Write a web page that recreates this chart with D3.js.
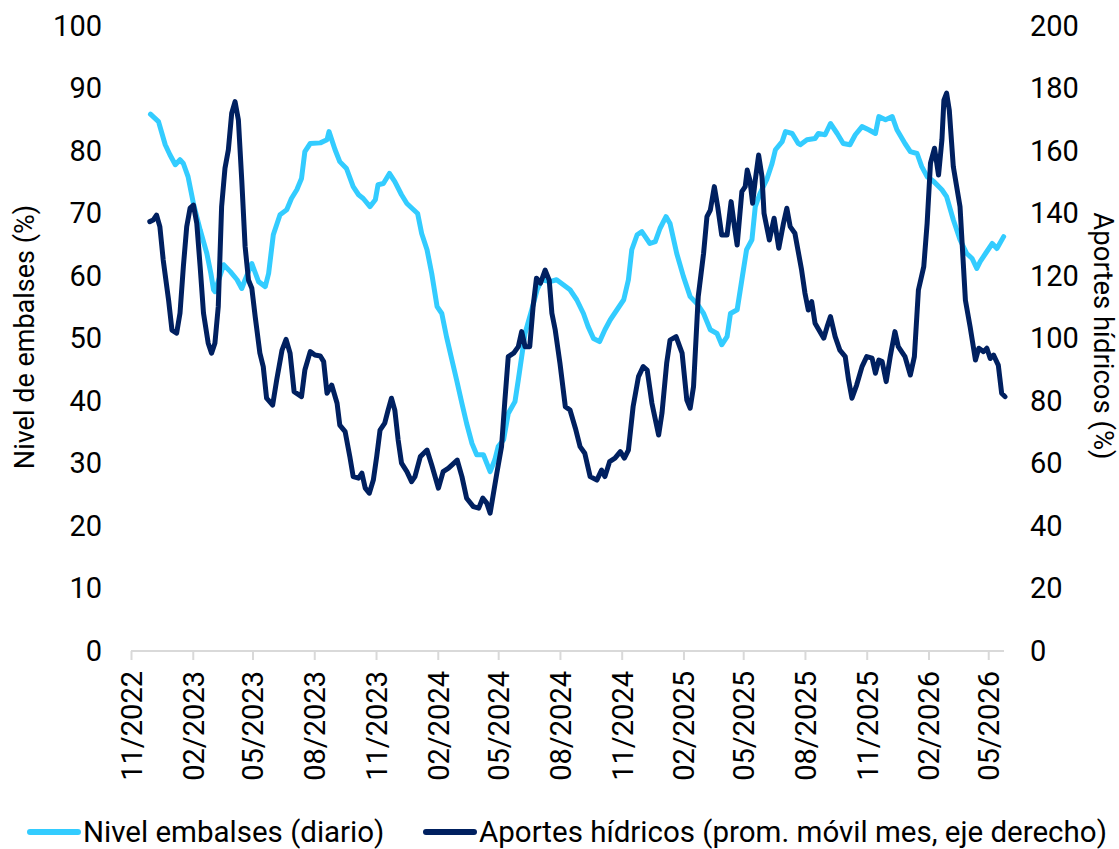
<!DOCTYPE html>
<html>
<head>
<meta charset="utf-8">
<script src="https://cdn.jsdelivr.net/npm/d3@7"></script>
<style>
body { margin: 0; background: #fff; }
text { font-family: Roboto, "Noto Sans", sans-serif; fill: #000; }
</style>
</head>
<body>
<div id="graph"></div>
<script>
// Nivel embalses (diario), eje izquierdo
var nivel_fechas = [
"2022-11-30","2022-12-12","2022-12-22","2022-12-29","2023-01-06","2023-01-13","2023-01-18","2023-01-25",
"2023-02-02","2023-02-12","2023-02-22","2023-02-28","2023-03-04","2023-03-06","2023-03-19","2023-03-29",
"2023-04-08","2023-04-15","2023-04-20","2023-04-30","2023-05-10","2023-05-20","2023-05-25","2023-06-01",
"2023-06-11","2023-06-21","2023-06-28","2023-07-06","2023-07-13","2023-07-18","2023-07-26","2023-08-10",
"2023-08-20","2023-08-23","2023-09-01","2023-09-08","2023-09-18","2023-09-28","2023-10-06","2023-10-13",
"2023-10-23","2023-10-31","2023-11-04","2023-11-12","2023-11-21","2023-11-29","2023-12-09","2023-12-17",
"2023-12-27","2024-01-02","2024-01-08","2024-01-16","2024-01-23","2024-01-31","2024-02-07","2024-02-14",
"2024-02-22","2024-02-29","2024-03-08","2024-03-15","2024-03-23","2024-03-30","2024-04-09","2024-04-19",
"2024-04-26","2024-05-01","2024-05-09","2024-05-16","2024-05-26","2024-05-31","2024-06-05","2024-06-10",
"2024-06-20","2024-06-28","2024-07-05","2024-07-17","2024-07-27","2024-08-06","2024-08-16","2024-08-26",
"2024-09-05","2024-09-12","2024-09-20","2024-09-29","2024-10-07","2024-10-15","2024-10-25","2024-11-04",
"2024-11-11","2024-11-16","2024-11-24","2024-12-01","2024-12-13","2024-12-21","2024-12-28","2025-01-06",
"2025-01-12","2025-01-22","2025-02-01","2025-02-11","2025-02-21","2025-03-03","2025-03-13","2025-03-23",
"2025-03-30","2025-04-07","2025-04-12","2025-04-22","2025-04-29","2025-05-06","2025-05-14","2025-05-19",
"2025-05-26","2025-06-05","2025-06-13","2025-06-18","2025-06-28","2025-07-03","2025-07-13","2025-07-22",
"2025-07-25","2025-08-04","2025-08-16","2025-08-21","2025-08-31","2025-09-08","2025-09-18","2025-09-27",
"2025-10-07","2025-10-15","2025-10-25","2025-11-04","2025-11-14","2025-11-19","2025-11-29","2025-12-09",
"2025-12-16","2025-12-28","2026-01-05","2026-01-15","2026-01-22","2026-01-30","2026-02-09","2026-02-21",
"2026-02-28","2026-03-10","2026-03-20","2026-03-30","2026-04-07","2026-04-14","2026-04-19","2026-04-27",
"2026-05-07","2026-05-14","2026-05-24"];
var nivel_valores = [
85.9,84.7,81.0,79.4,77.8,78.6,78.0,75.9,
71.6,67.4,63.6,60.4,57.8,57.5,61.8,60.7,
59.4,58.0,59.4,62.0,59.1,58.3,60.4,66.6,
69.8,70.6,72.4,73.8,75.6,79.9,81.2,81.3,
81.8,83.1,80.2,78.3,77.2,74.3,73.0,72.4,
71.1,72.2,74.6,74.8,76.4,75.1,73.0,71.6,
70.6,70.0,66.8,64.2,60.4,55.1,54.0,50.3,
46.6,43.4,39.6,36.4,33.2,31.4,31.4,28.7,
30.6,32.7,33.8,38.0,39.9,43.4,47.1,50.8,
54.6,57.8,59.4,59.1,59.4,58.6,57.8,56.2,
54.0,51.9,50.0,49.5,51.4,53.0,54.6,56.2,
59.4,64.2,66.6,67.1,65.2,65.5,67.6,69.5,
68.4,63.6,59.9,56.7,55.6,54.0,51.4,50.8,
49.0,50.3,54.0,54.6,59.4,64.2,65.8,71.1,
73.2,75.4,78.0,80.2,81.5,83.1,82.8,81.2,
81.0,81.8,82.0,82.8,82.6,84.4,82.8,81.2,
81.0,82.6,83.9,83.4,82.8,85.5,85.0,85.5,
83.4,81.2,79.9,79.6,77.5,75.9,75.1,73.8,
72.7,69.0,65.8,63.6,62.8,61.2,62.3,63.6,
65.2,64.4,66.3];

// Aportes hidricos (prom. movil mes), eje derecho
var aportes_fechas = [
"2022-11-29","2022-12-04","2022-12-09","2022-12-14","2022-12-19","2022-12-27","2023-01-01","2023-01-08",
"2023-01-13","2023-01-18","2023-01-23","2023-01-28","2023-02-02","2023-02-07","2023-02-12","2023-02-17",
"2023-02-24","2023-03-01","2023-03-06","2023-03-11","2023-03-16","2023-03-21","2023-03-26","2023-03-31",
"2023-04-05","2023-04-10","2023-04-15","2023-04-20","2023-04-25","2023-04-30","2023-05-05","2023-05-12",
"2023-05-17","2023-05-22","2023-05-31","2023-06-06","2023-06-14","2023-06-20","2023-06-26","2023-07-02",
"2023-07-13","2023-07-18","2023-07-26","2023-08-02","2023-08-10","2023-08-15","2023-08-20","2023-08-27",
"2023-09-04","2023-09-08","2023-09-16","2023-09-23","2023-09-28","2023-10-06","2023-10-11","2023-10-16",
"2023-10-22","2023-10-28","2023-11-02","2023-11-07","2023-11-14","2023-11-19","2023-11-24","2023-11-29",
"2023-12-04","2023-12-09","2023-12-17","2023-12-24","2023-12-29","2024-01-06","2024-01-16","2024-01-23",
"2024-02-02","2024-02-09","2024-02-17","2024-03-01","2024-03-08","2024-03-15","2024-03-25","2024-04-02",
"2024-04-08","2024-04-14","2024-04-19","2024-04-24","2024-04-29","2024-05-06","2024-05-11","2024-05-16",
"2024-05-24","2024-05-31","2024-06-05","2024-06-10","2024-06-17","2024-06-22","2024-06-27","2024-07-03",
"2024-07-10","2024-07-16","2024-07-20","2024-07-25","2024-08-01","2024-08-09","2024-08-16","2024-08-24",
"2024-08-31","2024-09-07","2024-09-15","2024-09-25","2024-10-02","2024-10-07","2024-10-14","2024-10-22",
"2024-10-30","2024-11-05","2024-11-11","2024-11-18","2024-11-26","2024-12-03","2024-12-09","2024-12-16",
"2024-12-26","2024-12-31","2025-01-07","2025-01-12","2025-01-21","2025-01-30","2025-02-06","2025-02-11",
"2025-02-16","2025-02-23","2025-03-03","2025-03-08","2025-03-13","2025-03-19","2025-03-24","2025-03-30",
"2025-04-07","2025-04-13","2025-04-18","2025-04-22","2025-04-29","2025-05-04","2025-05-07","2025-05-11",
"2025-05-15","2025-05-19","2025-05-24","2025-05-29","2025-06-01","2025-06-09","2025-06-16","2025-06-23",
"2025-06-30","2025-07-05","2025-07-10","2025-07-17","2025-07-27","2025-08-01","2025-08-06","2025-08-11",
"2025-08-16","2025-08-29","2025-09-03","2025-09-08","2025-09-15","2025-09-22","2025-09-30","2025-10-05",
"2025-10-10","2025-10-17","2025-10-25","2025-11-01","2025-11-09","2025-11-14","2025-11-19","2025-11-24",
"2025-11-30","2025-12-06","2025-12-13","2025-12-18","2025-12-28","2026-01-05","2026-01-11","2026-01-17",
"2026-01-25","2026-01-30","2026-02-04","2026-02-10","2026-02-16","2026-02-21","2026-02-24","2026-02-28",
"2026-03-04","2026-03-10","2026-03-20","2026-03-28","2026-04-04","2026-04-12","2026-04-17","2026-04-24",
"2026-04-29","2026-05-04","2026-05-09","2026-05-16","2026-05-21","2026-05-26"];
var aportes_valores = [
137.4,137.9,139.5,135.8,125.1,112.3,102.7,101.7,
108.1,123.0,135.8,141.7,142.7,136.9,123.0,108.1,
98.5,95.3,98.5,110.2,142.2,154.5,160.3,172.1,
175.8,169.9,150.7,129.4,118.7,116.1,107.0,95.3,
91.0,80.9,78.7,86.7,96.3,99.7,95.3,83.0,
81.4,89.9,95.8,94.7,94.4,92.6,82.5,85.1,
79.3,72.3,70.2,62.2,55.8,55.3,56.9,52.1,
50.5,54.7,62.2,70.7,72.9,77.1,80.9,77.1,
67.5,60.1,57.4,54.2,55.8,62.2,64.3,59.5,
52.1,57.4,58.5,61.1,55.8,48.9,46.2,45.7,
48.9,47.3,44.1,50.5,56.9,65.4,80.3,94.2,
95.3,97.4,102.2,97.4,97.4,110.2,119.3,117.7,
121.9,118.7,108.1,102.7,92.1,78.2,77.1,71.3,
65.4,63.3,55.8,54.7,57.9,55.8,60.6,61.7,
63.8,61.7,64.3,78.2,87.8,91.0,89.9,79.3,
69.1,76.1,92.1,99.5,100.6,95.3,80.3,77.7,
84.6,113.4,127.3,139.0,141.1,148.6,142.2,133.1,
133.1,143.8,135.8,129.9,147.0,148.6,153.9,150.7,
143.3,150.7,158.7,151.8,140.1,131.5,138.5,128.9,
136.9,141.7,135.8,133.7,121.9,114.5,109.1,111.8,
104.9,100.1,103.8,107.0,100.6,96.3,94.2,86.7,
80.9,85.1,91.0,94.2,93.7,88.9,93.1,92.6,
86.2,94.2,102.2,97.4,94.2,88.3,94.2,115.5,
123.0,136.9,156.1,160.9,152.3,163.5,176.3,178.5,
173.1,155.0,142.2,112.3,103.8,93.1,96.9,95.8,
96.9,93.6,94.7,91.5,82.5,81.4];

var ticks_izq = [0,10,20,30,40,50,60,70,80,90,100];
var ticks_der = [0,20,40,60,80,100,120,140,160,180,200];
var ticks_fechas = ["2022-11-01","2023-02-01","2023-05-01","2023-08-01","2023-11-01","2024-02-01","2024-05-01",
"2024-08-01","2024-11-01","2025-02-01","2025-05-01","2025-08-01","2025-11-01","2026-02-01","2026-05-01"];

var graph_width = 1119;
var graph_height = 849;
var x0 = 131, x1 = 1005, y_top = 26, y_bottom = 651;
var color_nivel = "#33ccff";
var color_aportes = "#002060";

var parse = d3.timeParse("%Y-%m-%d");

var graph = d3.select("#graph")
	.append("svg")
	.attr("width", graph_width)
	.attr("height", graph_height);

var x = d3.scaleTime()
	.domain([parse("2022-11-01"), parse("2026-05-26")])
	.range([x0, x1]);
var y_izq = d3.scaleLinear().domain([0, 100]).range([y_bottom, y_top]);
var y_der = d3.scaleLinear().domain([0, 200]).range([y_bottom, y_top]);

// eje x
var ax = graph.append("g")
	.attr("transform", "translate(0," + y_bottom + ")")
	.call(d3.axisBottom(x)
		.tickValues(ticks_fechas.map(parse))
		.tickFormat(d3.timeFormat("%m/%Y"))
		.tickSize(9)
		.tickSizeOuter(0));
ax.select(".domain").attr("stroke", "#d9d9d9").attr("stroke-width", 2)
	.attr("d", "M" + x0 + ",0H" + (x1 - 1));
ax.selectAll(".tick line").attr("stroke", "#d9d9d9").attr("stroke-width", 2);
ax.selectAll(".tick text")
	.attr("font-size", 29)
	.attr("transform", "rotate(-90)")
	.attr("text-anchor", "end")
	.attr("x", -20)
	.attr("y", 0)
	.attr("dy", "0.36em");

// ejes y
var al = graph.append("g")
	.attr("transform", "translate(" + (x0 - 21) + ",0)")
	.call(d3.axisLeft(y_izq).tickValues(ticks_izq).tickSize(0).tickPadding(8));
al.select(".domain").remove();
al.selectAll(".tick text").attr("font-size", 29);

var ar = graph.append("g")
	.attr("transform", "translate(" + (x1 + 17) + ",0)")
	.call(d3.axisRight(y_der).tickValues(ticks_der).tickSize(0).tickPadding(8));
ar.select(".domain").remove();
ar.selectAll(".tick text").attr("font-size", 29);

graph.append("text")
	.attr("transform", "translate(34,337) rotate(-90)")
	.attr("text-anchor", "middle")
	.attr("font-size", 27)
	.text("Nivel de embalses (%)");

graph.append("text")
	.attr("transform", "translate(1094,336) rotate(90)")
	.attr("text-anchor", "middle")
	.attr("font-size", 27.5)
	.text("Aportes hídricos (%)");

// lineas
var nivel = nivel_fechas.map(function(d, i) { return [parse(d), nivel_valores[i]]; });
var aportes = aportes_fechas.map(function(d, i) { return [parse(d), aportes_valores[i]]; });

graph.append("path")
	.datum(nivel)
	.attr("fill", "none")
	.attr("stroke", color_nivel)
	.attr("stroke-width", 5)
	.attr("stroke-linejoin", "round")
	.attr("stroke-linecap", "round")
	.attr("d", d3.line().x(function(d) { return x(d[0]); }).y(function(d) { return y_izq(d[1]); }));

graph.append("path")
	.datum(aportes)
	.attr("fill", "none")
	.attr("stroke", color_aportes)
	.attr("stroke-width", 5)
	.attr("stroke-linejoin", "round")
	.attr("stroke-linecap", "round")
	.attr("d", d3.line().x(function(d) { return x(d[0]); }).y(function(d) { return y_der(d[1]); }));

// leyenda
var leyenda = [
	{ nombre: "Nivel embalses (diario)", color: color_nivel, x: 30 },
	{ nombre: "Aportes hídricos (prom. móvil mes, eje derecho)", color: color_aportes, x: 426 }
];
leyenda.forEach(function(l)
{
	graph.append("line")
		.attr("x1", l.x).attr("x2", l.x + 48)
		.attr("y1", 832).attr("y2", 832)
		.attr("stroke", l.color)
		.attr("stroke-width", 6)
		.attr("stroke-linecap", "round");
	graph.append("text")
		.attr("x", l.x + 53)
		.attr("y", 842)
		.attr("font-size", 29.5)
		.text(l.nombre);
});
</script>
</body>
</html>
